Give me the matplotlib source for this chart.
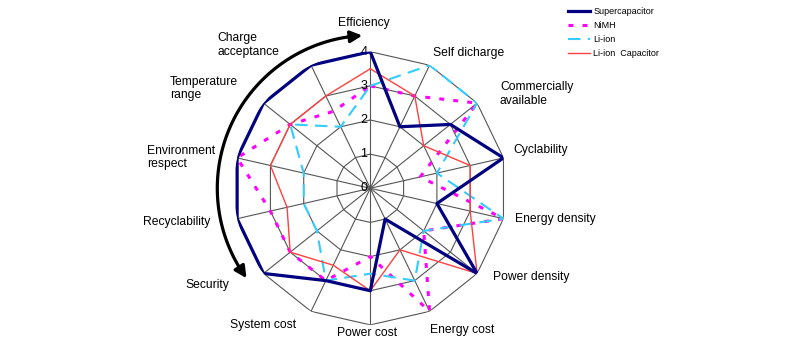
import numpy as np
import matplotlib.pyplot as plt

plt.rcParams['font.family'] = ['Liberation Sans', 'DejaVu Sans']

# criteria, clockwise from the top
criteria = ['Efficiency', 'Self dicharge', 'Commercially\navailable', 'Cyclability',
            'Energy density', 'Power density', 'Energy cost', 'Power cost',
            'System cost', 'Security', 'Recyclability', 'Environment\nrespect',
            'Temperature\nrange', 'Charge\nacceptance']
ring_levels = [0, 1, 2, 3, 4]

supercap = [4, 2, 3, 4, 2, 4, 1, 3, 3, 4, 4, 4, 4, 4]
nimh = [3, 3, 4, 1.5, 4, 2, 4, 2, 3, 3, 3, 4, 3, 2.5]
li_ion = [3, 4, 4, 2, 4, 2, 3, 2.5, 3, 2, 2, 2, 3, 2]
li_ion_cap = [3.5, 3, 2, 3, 3, 4, 2, 3, 2.5, 3, 2.5, 3, 3, 3]

W, H = 800, 348
fig = plt.figure(figsize=(W / 100, H / 100), dpi=100)

# polar axes, centre at (370, 188) px, radius 4 -> 136.6 px
cx, cy, rad = 370.3, 188.3, 136.6
ax = fig.add_axes([(cx - rad) / W, 1 - (cy + rad) / H, 2 * rad / W, 2 * rad / H],
                  projection='polar')
ax.set_theta_zero_location('N')
ax.set_theta_direction(-1)
ax.set_ylim(0, 4)
ax.set_axis_off()

n = len(criteria)
theta = np.linspace(0, 2 * np.pi, n, endpoint=False)
theta_c = np.append(theta, theta[0])

# polygon grid and spokes
grid_col = '#555555'
for lev in ring_levels[1:]:
    ax.plot(theta_c, [lev] * (n + 1), color=grid_col, lw=0.8, zorder=1)
for t in theta:
    ax.plot([t, t], [0, ring_levels[-1]], color=grid_col, lw=0.8, zorder=1)
for lev in ring_levels:
    ax.annotate(str(lev), xy=(0, lev), xytext=(-2, 0), textcoords='offset points',
                ha='right', va='center', fontsize=9, zorder=5)

def close(v):
    return list(v) + [v[0]]

l1, = ax.plot(theta_c, close(supercap), color='#000080', lw=2.3, zorder=6,
              label='Supercapacitor')
l2, = ax.plot(theta_c, close(nimh), color='#FF00FF', lw=2.2, ls=(0, (1.6, 3)),
              zorder=3, label='NiMH')
l3, = ax.plot(theta_c, close(li_ion), color='#33CCFF', lw=1.5, ls=(0, (6, 3.5)),
              zorder=4, label='Li-ion')
l4, = ax.plot(theta_c, close(li_ion_cap), color='#FF4040', lw=1.0, zorder=5,
              label='Li-ion  Capacitor')

# double headed curved arrow on the left
arc_r = 153 / rad * 4
arc_t = np.deg2rad(np.linspace(238, 353, 100))
ax.plot(arc_t, [arc_r] * len(arc_t), color='black', lw=2.3, clip_on=False)
ax.annotate('', xy=(np.deg2rad(357), arc_r), xytext=(np.deg2rad(352), arc_r),
            arrowprops=dict(arrowstyle='-|>,head_length=0.7,head_width=0.35',
                            color='black', lw=2.3, shrinkA=0, shrinkB=0),
            annotation_clip=False)
ax.annotate('', xy=(np.deg2rad(234), arc_r), xytext=(np.deg2rad(239), arc_r),
            arrowprops=dict(arrowstyle='-|>,head_length=0.7,head_width=0.35',
                            color='black', lw=2.3, shrinkA=0, shrinkB=0),
            annotation_clip=False)

# criterion labels (pixel positions and alignment)
label_pos = [(363.5, 23, 'center'), (432.7, 53, 'left'), (500, 94, 'left'),
             (513, 150, 'left'), (515, 219, 'left'), (493, 277, 'left'),
             (430, 330, 'left'), (367, 333, 'center'), (295.7, 325, 'right'),
             (229.3, 285, 'right'), (210, 222, 'right'), (147.3, 157.5, 'left'),
             (170, 88.5, 'left'), (217.7, 45, 'left')]
for name, (px, py, ha) in zip(criteria, label_pos):
    fig.text(px / W, 1 - py / H, name, ha=ha, va='center', fontsize=8.7,
             multialignment='left', linespacing=1.2)

fig.legend(handles=[l1, l2, l3, l4], loc='upper left', frameon=False,
           bbox_to_anchor=(562 / W, 1 - 1 / H), fontsize=6.5, handlelength=2.4,
           handletextpad=0.35, labelspacing=0.55, borderpad=0.2)

fig.savefig('out.png', dpi=100)
